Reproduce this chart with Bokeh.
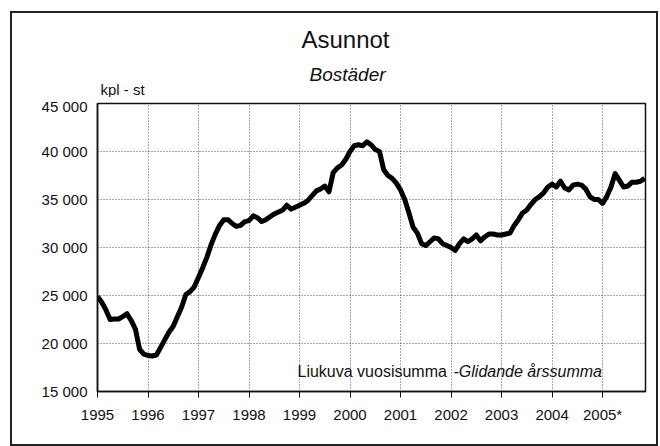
from bokeh.plotting import figure
from bokeh.models import Label, FixedTicker, Range1d
from bokeh.layouts import column
from bokeh.embed import file_html
from bokeh.resources import INLINE

# ---- data (monthly moving annual sums, Jan 1995 .. Nov 2005) ----
title_text = "Asunnot"
subtitle_text = "Bostäder"
unit_text = "kpl - st"
note_regular = "Liukuva vuosisumma"
note_italic = "-Glidande årssumma"

start_year = 1995
values = [
    # 1995
    24900, 24300, 23500, 22500, 22550, 22550, 22800, 23100, 22400, 21500, 19400, 18900,
    # 1996
    18750, 18700, 18800, 19600, 20400, 21200, 21800, 22800, 23800, 25100, 25400, 25900,
    # 1997
    26900, 27900, 29000, 30300, 31400, 32300, 32900, 32900, 32500, 32200, 32300, 32700,
    # 1998
    32800, 33300, 33100, 32700, 32900, 33200, 33500, 33700, 33900, 34400, 34000, 34200,
    # 1999
    34400, 34600, 34900, 35400, 35900, 36100, 36400, 35800, 37800, 38300, 38600, 39200,
    # 2000
    40000, 40600, 40700, 40600, 41000, 40700, 40200, 40000, 38100, 37500, 37200, 36700,
    # 2001
    36000, 35000, 33600, 32100, 31500, 30400, 30200, 30600, 31000, 30900, 30400, 30200,
    # 2002
    30000, 29700, 30400, 30900, 30600, 30900, 31300, 30700, 31100, 31400, 31400, 31300,
    # 2003
    31300, 31400, 31500, 32300, 32900, 33600, 33900, 34500, 35000, 35300, 35700, 36300,
    # 2004
    36600, 36300, 36900, 36200, 36000, 36500, 36600, 36500, 36100, 35300, 35000, 35000,
    # 2005
    34600, 35300, 36300, 37700, 37000, 36300, 36400, 36800, 36800, 36900, 37200,
]
x_vals = [start_year + i / 12 for i in range(len(values))]

x_ticks = [1995, 1996, 1997, 1998, 1999, 2000, 2001, 2002, 2003, 2004, 2005]
x_tick_labels = ["1995", "1996", "1997", "1998", "1999", "2000", "2001", "2002", "2003", "2004", "2005*"]
y_ticks = [15000, 20000, 25000, 30000, 35000, 40000, 45000]
y_tick_labels = ["15 000", "20 000", "25 000", "30 000", "35 000", "40 000", "45 000"]

FONT = "Liberation Sans"
INK = "#111111"
W = 644           # content width of both panels
BL, BR = 85, 11   # left / right borders (same in both panels so frames align)
FW = W - BL - BR  # frame width = 548
HEAD_H = 84       # header panel height

# ---- header panel (titles); its frame is aligned with the chart frame ----
head = figure(width=W, height=HEAD_H, output_backend="svg", toolbar_location=None,
              x_range=Range1d(0, FW), y_range=Range1d(0, HEAD_H),
              x_axis_type=None, y_axis_type=None,
              min_border_left=BL, min_border_right=BR, min_border_top=0, min_border_bottom=0)
head.frame_width = FW
head.frame_height = HEAD_H
head.outline_line_color = None
head.grid.visible = False
head.background_fill_color = "white"
head.border_fill_color = "white"

head.add_layout(Label(x=248, y=58, text=title_text,
                      text_font=FONT, text_font_size="24px", text_color=INK,
                      text_align="center", text_baseline="alphabetic"))
head.add_layout(Label(x=250, y=23, text=subtitle_text,
                      text_font=FONT, text_font_size="19px", text_font_style="italic", text_color=INK,
                      text_align="center", text_baseline="alphabetic"))
head.add_layout(Label(x=3, y=8, text=unit_text,
                      text_font=FONT, text_font_size="15px", text_color=INK,
                      text_align="left", text_baseline="alphabetic"))

# ---- main chart ----
p = figure(
    width=W, height=347,
    output_backend="svg", toolbar_location=None,
    x_range=Range1d(1995, 2005.85), y_range=Range1d(15000, 45000),
    min_border_left=BL, min_border_right=BR, min_border_top=6, min_border_bottom=53,
)
p.frame_width = FW
p.frame_height = 288
p.background_fill_color = "white"
p.border_fill_color = "white"
p.outline_line_color = "#111111"
p.outline_line_width = 1.5

p.line(x_vals, values, line_color="black", line_width=5, line_join="round")

p.xaxis.ticker = FixedTicker(ticks=x_ticks)
p.xaxis.major_label_overrides = {t: l for t, l in zip(x_ticks, x_tick_labels)}
p.yaxis.ticker = FixedTicker(ticks=y_ticks)
p.yaxis.major_label_overrides = {t: l for t, l in zip(y_ticks, y_tick_labels)}
for ax in (p.xaxis, p.yaxis):
    ax.minor_tick_line_color = None
    ax.axis_line_color = "#111111"
    ax.axis_line_width = 1.5
    ax.major_label_text_font = FONT
    ax.major_label_text_font_size = "15px"
    ax.major_label_text_color = INK
    ax.major_tick_line_color = "#111111"
    ax.major_tick_in = 0
p.xaxis.major_tick_out = 6
p.xaxis.major_label_standoff = 8
p.yaxis.major_tick_out = 0
p.yaxis.major_label_standoff = 10

p.xgrid.ticker = FixedTicker(ticks=x_ticks)
p.ygrid.ticker = FixedTicker(ticks=y_ticks)
for g in (p.xgrid, p.ygrid):
    g.grid_line_color = "#555555"
    g.grid_line_width = 1
    g.grid_line_dash = "1 2"

# note inside the frame (screen units: from frame left / frame bottom)
p.add_layout(Label(x=200, y=20, x_units="screen", y_units="screen", text=note_regular,
                   text_font=FONT, text_font_size="16px", text_color=INK,
                   text_align="left", text_baseline="alphabetic"))
p.add_layout(Label(x=356, y=20, x_units="screen", y_units="screen", text=note_italic,
                   text_font=FONT, text_font_size="16px", text_font_style="italic", text_color=INK,
                   text_align="left", text_baseline="alphabetic"))

layout = column(head, p, spacing=0)
layout.styles = {"border": "2px solid #222222", "margin-left": "10px", "margin-top": "11px"}

open("out.html", "w").write(file_html(layout, INLINE))
